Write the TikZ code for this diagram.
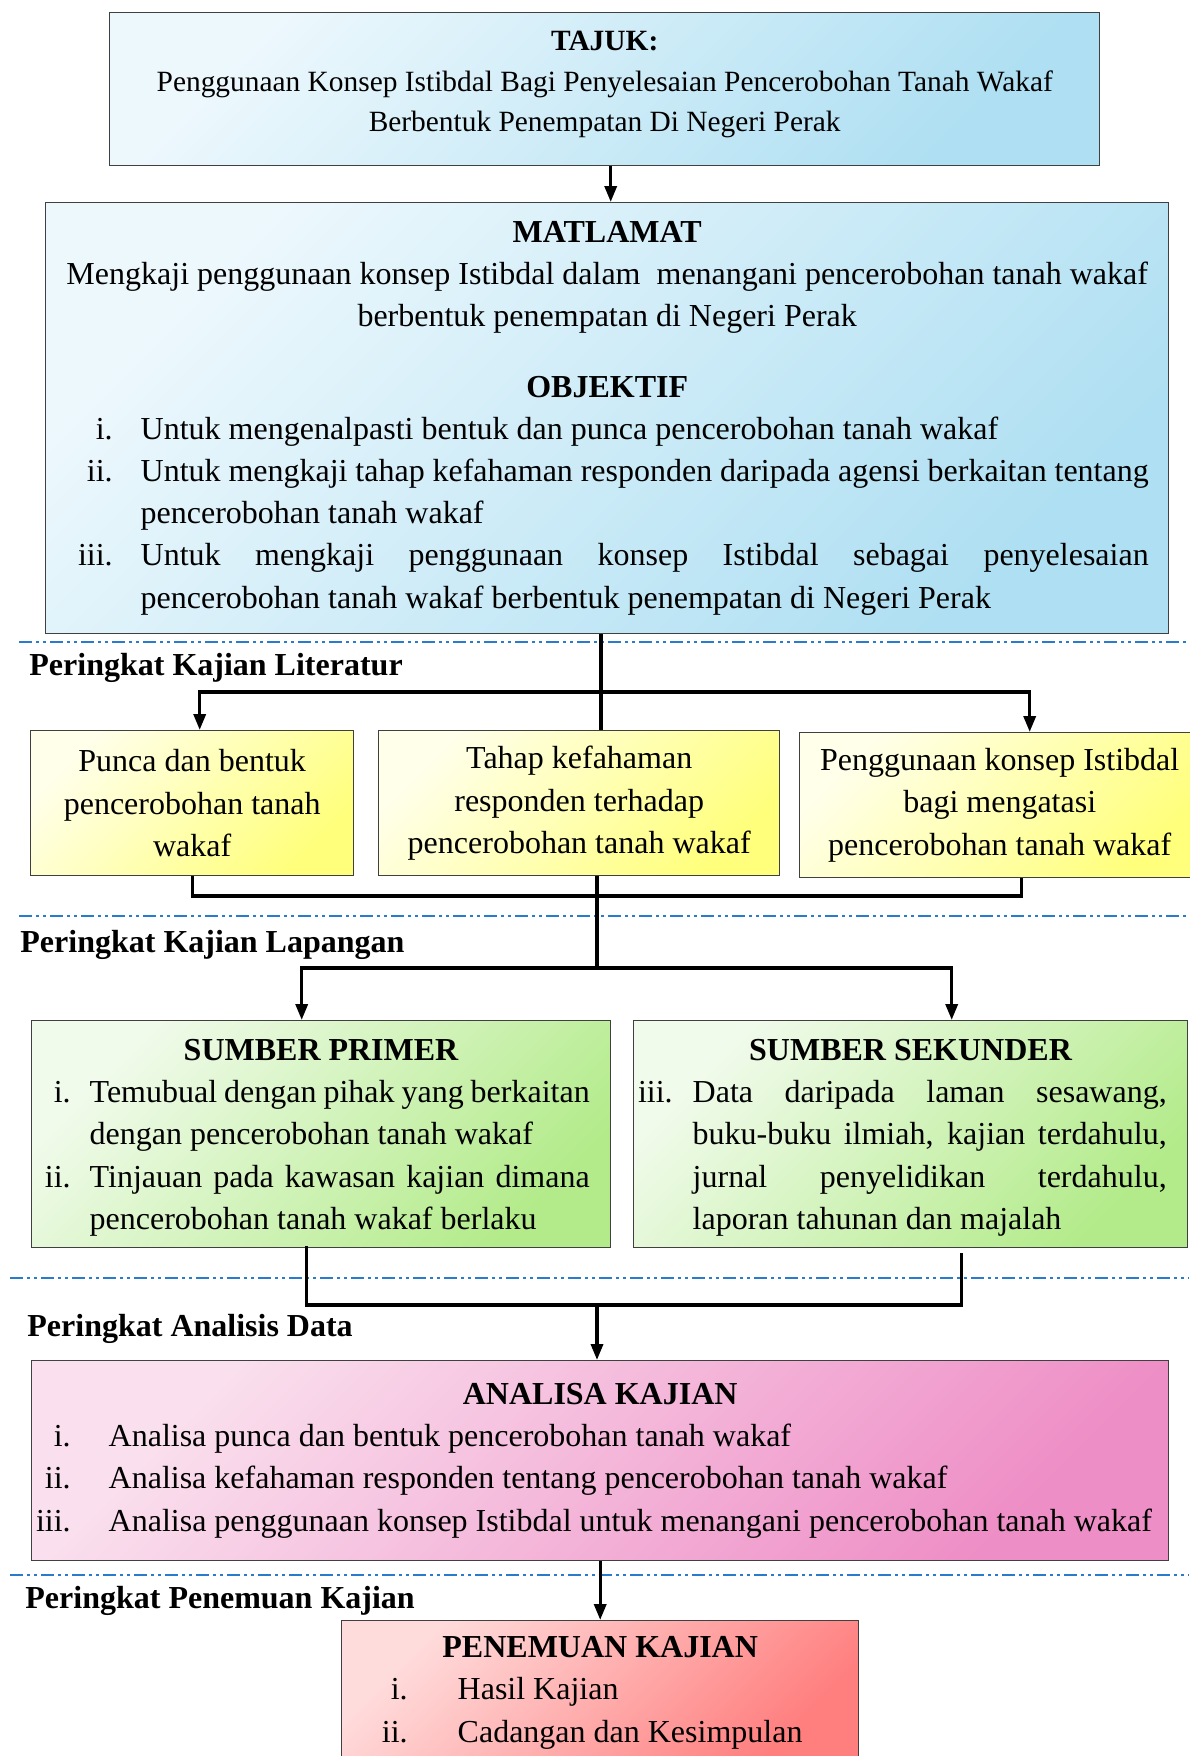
\documentclass[tikz,border=0pt]{standalone}
\usepackage{fontspec}
\setmainfont{Liberation Serif}
\usetikzlibrary{calc,arrows.meta}

\definecolor{blueA}{HTML}{EDF8FD}
\definecolor{blueB}{HTML}{AEDFF2}
\definecolor{yelA}{HTML}{FFFFEA}
\definecolor{yelB}{HTML}{FFFF7C}
\definecolor{grnA}{HTML}{F1FBEC}
\definecolor{grnB}{HTML}{B3EB8A}
\definecolor{pnkA}{HTML}{FAE0EE}
\definecolor{pnkB}{HTML}{EE8EC6}
\definecolor{redA}{HTML}{FFDCDC}
\definecolor{redB}{HTML}{FF7E7E}
\definecolor{sepblue}{HTML}{2A7BCB}

\newcommand{\bodyfont}{\fontsize{16pt}{21.1pt}\selectfont}
\newcommand{\titlefont}{\fontsize{14.7pt}{20.2pt}\selectfont}
\newcommand{\entry}[3]{\makebox[#1][r]{#2}\hspace{#3}}
\newcommand{\jline}[2]{\makebox[#1][s]{#2}}
\newcommand{\ctr}[2]{\makebox[#1]{#2}}

\begin{document}
\begin{tikzpicture}[x=0.5pt, y=-0.5pt,
  box/.style={draw=black!75, line width=0.7pt, inner xsep=0pt, inner ysep=0pt,
    anchor=north west, font=\bodyfont, align=flush left},
  bluebox/.style={box, top color=blueA, bottom color=blueB, shading angle=45},
  yelbox/.style={box, align=flush center, minimum height=72.5pt, top color=yelA, bottom color=yelB, shading angle=45},
  grnbox/.style={box, minimum height=113.5pt, top color=grnA, bottom color=grnB, shading angle=45},
  pnkbox/.style={box, top color=pnkA, bottom color=pnkB, shading angle=45},
  redbox/.style={box, top color=redA, bottom color=redB, shading angle=45},
  stage/.style={font=\bodyfont\bfseries, inner sep=0pt, anchor=west},
  sepline/.style={sepblue, line width=1pt,
    dash pattern=on 6.5pt off 2pt on 1.5pt off 2pt on 1.5pt off 2pt},
  conn/.style={black, line width=1.7pt},
  arr/.style={conn, -{Triangle[length=8pt,width=6pt]}}]

  \useasboundingbox (0,0) rectangle (1189,1756);

  % stage separators
  \draw[sepline] (19,642) -- (1189,642);
  \draw[sepline] (19,916) -- (1189,916);
  \draw[sepline] (10,1278) -- (1189,1278);
  \draw[sepline] (10,1575) -- (1189,1575);

  \node[stage] (st1) at (29,668) {Peringkat Kajian Literatur};
  \node[stage] (st2) at (20,945) {Peringkat Kajian Lapangan};
  \node[stage] (st3) at (27,1329) {Peringkat Analisis Data};
  \node[stage] (st4) at (25,1601) {Peringkat Penemuan Kajian};

  % title and aim
  \node[bluebox, font=\titlefont, align=flush center, text width=495pt, minimum height=76.5pt] (tajuk) at (109,12)
    {\textbf{TAJUK:}\\
     Penggunaan Konsep Istibdal Bagi Penyelesaian Pencerobohan Tanah Wakaf\\
     Berbentuk Penempatan Di Negeri Perak\rule[-7.7pt]{0pt}{0pt}};

  \node[bluebox, text width=561.5pt, minimum height=215.5pt] (matlamat) at (45,202)
    {\ctr{561.5pt}{\textbf{MATLAMAT}}\\
     \ctr{561.5pt}{Mengkaji penggunaan konsep Istibdal dalam~ menangani pencerobohan tanah wakaf}\\
     \ctr{561.5pt}{berbentuk penempatan di Negeri Perak}\\[14pt]
     \ctr{561.5pt}{\textbf{OBJEKTIF}}\\
     \entry{33.5pt}{i.}{14pt}Untuk mengenalpasti bentuk dan punca pencerobohan tanah wakaf\\
     \entry{33.5pt}{ii.}{14pt}\jline{504pt}{Untuk mengkaji tahap kefahaman responden daripada agensi berkaitan tentang}\\
     \hspace*{47.5pt}pencerobohan tanah wakaf\\
     \entry{33.5pt}{iii.}{14pt}\jline{504pt}{Untuk mengkaji penggunaan konsep Istibdal sebagai penyelesaian}\\
     \hspace*{47.5pt}pencerobohan tanah wakaf berbentuk penempatan di Negeri Perak};

  % literature stage
  \node[yelbox, text width=161.5pt] (lit1) at (30,730)
    {Punca dan bentuk\\ pencerobohan tanah\\ wakaf};
  \node[yelbox, text width=200.5pt] (lit2) at (378,730)
    {Tahap kefahaman\\ responden terhadap\\ pencerobohan tanah wakaf};
  \node[yelbox, text width=200pt] (lit3) at (799,732)
    {Penggunaan konsep Istibdal\\ bagi mengatasi\\ pencerobohan tanah wakaf};

  % field stage
  \node[grnbox, text width=289.5pt] (src1) at (31,1020)
    {\ctr{289.5pt}{\rule{0pt}{14pt}\textbf{SUMBER PRIMER}}\\
     \entry{19.5pt}{i.}{9.5pt}\jline{250pt}{Temubual dengan pihak yang berkaitan}\\
     \hspace*{29pt}dengan pencerobohan tanah wakaf\\
     \entry{19.5pt}{ii.}{9.5pt}\jline{250pt}{Tinjauan pada kawasan kajian dimana}\\
     \hspace*{29pt}pencerobohan tanah wakaf berlaku};
  \node[grnbox, text width=277pt] (src2) at (633,1020)
    {\ctr{277pt}{\rule{0pt}{14pt}\textbf{SUMBER SEKUNDER}}\\
     \entry{19.5pt}{iii.}{10pt}\jline{237pt}{Data daripada laman sesawang,}\\
     \hspace*{29.5pt}\jline{237pt}{buku-buku ilmiah, kajian terdahulu,}\\
     \hspace*{29.5pt}\jline{237pt}{jurnal penyelidikan terdahulu,}\\
     \hspace*{29.5pt}laporan tahunan dan majalah};

  % analysis and findings
  \node[pnkbox, text width=568.5pt, minimum height=100pt] (ana) at (31,1360)
    {\ctr{568.5pt}{\textbf{ANALISA KAJIAN}}\\
     \entry{19.5pt}{i.}{19pt}Analisa punca dan bentuk pencerobohan tanah wakaf\\
     \entry{19.5pt}{ii.}{19pt}Analisa kefahaman responden tentang pencerobohan tanah wakaf\\
     \entry{19.5pt}{iii.}{19pt}Analisa penggunaan konsep Istibdal untuk menangani pencerobohan tanah wakaf};

  \node[redbox, text width=258.5pt, minimum height=72pt] (fin) at (341,1620)
    {\ctr{258.5pt}{\textbf{PENEMUAN KAJIAN}}\\
     \entry{33pt}{i.}{25pt}Hasil Kajian\\
     \entry{33pt}{ii.}{25pt}Cadangan dan Kesimpulan};

  % connectors
  \coordinate (split1) at (601,692);
  \coordinate (merge1) at (597,896);
  \coordinate (split2) at (597,968);
  \coordinate (merge2) at (597,1305);

  \draw[arr] ($(tajuk.south)+(6,0)$) -- ($(tajuk.south |- matlamat.north)+(6,0)$);
  \draw[conn] (matlamat.south -| split1) -- (split1 |- lit2.north);
  \draw[arr] (split1) -| ($(lit1.north)+(7.5,0)$);
  \draw[arr] (split1) -| ($(lit3.north)+(30,0)$);

  \draw[conn] (lit1.south) |- (merge1);
  \draw[conn] ($(lit3.south)+(22,0)$) |- (merge1);
  \draw[conn] (lit2.south -| merge1) -- (split2);
  \draw[arr] (split2) -| ($(src1.north)+(-19.5,0)$);
  \draw[arr] (split2) -| ($(src2.north)+(41,0)$);

  \draw[conn] ($(src1.south)+(-14.5,-2)$) |- (merge2);
  \draw[conn] ($(src2.south)+(51,5)$) |- (merge2);
  \draw[arr] (merge2) -- (merge2 |- ana.north);
  \draw[arr] (ana.south) -- (fin.north);
\end{tikzpicture}
\end{document}
